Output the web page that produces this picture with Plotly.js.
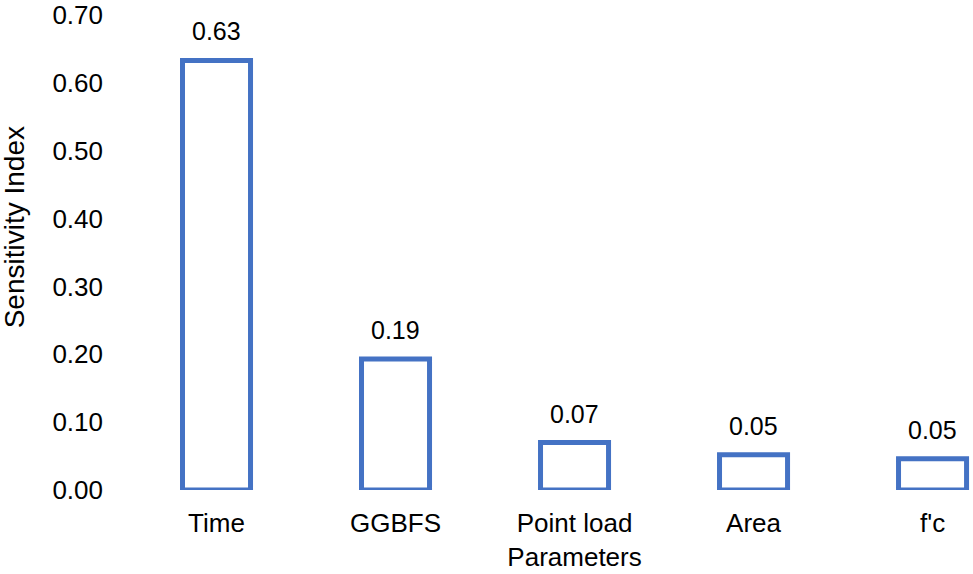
<!DOCTYPE html>
<html>
<head>
<meta charset="utf-8">
<script src="https://cdn.plot.ly/plotly-3.0.1.min.js"></script>
<style>html,body{margin:0;padding:0;background:#fff;}#chart{width:973px;height:574px;}</style>
</head>
<body>
<div id="chart"></div>
<script>
const categories = ['Time', 'GGBFS', 'Point load<br>Parameters', 'Area', "f'c"];
const sensitivity = [0.633, 0.193, 0.070, 0.052, 0.046];
const yTickValues = [0, 0.1, 0.2, 0.3, 0.4, 0.5, 0.6, 0.7];
const yTickLabels = ['0.00', '0.10', '0.20', '0.30', '0.40', '0.50', '0.60', '0.70'];
const yTitle = 'Sensitivity Index';

const FONT = '"Liberation Sans", Arial, Helvetica, sans-serif';
const BLUE = '#4472C4';

const trace = {
  type: 'bar',
  x: categories,
  y: sensitivity,
  width: 0.38,
  marker: { color: 'rgba(0,0,0,0)', line: { color: BLUE, width: 5 } },
  cliponaxis: false,
  hoverinfo: 'x+y'
};

const annotations = categories.map((c, i) => ({
  x: c, y: sensitivity[i], xref: 'x', yref: 'y',
  text: sensitivity[i].toFixed(2),
  showarrow: false, yanchor: 'bottom', yshift: 13,
  font: { family: FONT, size: 25, color: '#000' }
}));

annotations.push({
  text: yTitle, textangle: -90, showarrow: false,
  xref: 'paper', yref: 'paper', x: -0.1107, y: 0.554,
  xanchor: 'center', yanchor: 'middle',
  font: { family: FONT, size: 28, color: '#000' }
});

const layout = {
  width: 973, height: 574,
  margin: { l: 110, r: 0, t: 15, b: 84 },
  paper_bgcolor: '#fff', plot_bgcolor: '#fff',
  font: { family: FONT, size: 26, color: '#000' },
  showlegend: false,
  xaxis: {
    type: 'category',
    range: [-0.595, 4.226],
    showgrid: false, zeroline: false, showline: false, ticks: '',
    tickfont: { family: FONT, size: 26, color: '#000' },
    ticklabelstandoff: 15,
    automargin: false
  },
  yaxis: {
    range: [0, 0.7],
    tickvals: yTickValues, ticktext: yTickLabels,
    showgrid: false, zeroline: false, showline: false, ticks: '',
    tickfont: { family: FONT, size: 26, color: '#000' },
    ticklabelstandoff: 6,
    automargin: false
  },
  annotations: annotations
};

Plotly.newPlot('chart', [trace], layout, { displayModeBar: false, staticPlot: true });
</script>
</body>
</html>
